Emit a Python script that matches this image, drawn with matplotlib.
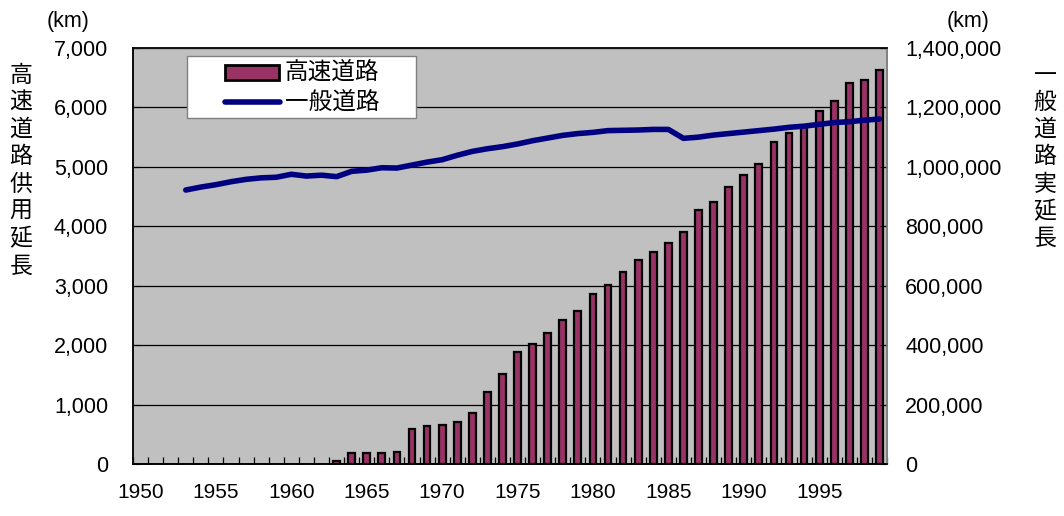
import matplotlib
matplotlib.use("Agg")
import matplotlib.pyplot as plt
from matplotlib.patches import Rectangle
from matplotlib.lines import Line2D
from matplotlib.ticker import FuncFormatter, MultipleLocator

# expressway length in service (km), 1963-1999
bar_years = list(range(1963, 2000))
expressway_km = [56, 181, 190, 190, 202, 594, 634, 651, 712, 864,
                 1212, 1518, 1890, 2025, 2200, 2430, 2575, 2861, 3013, 3232,
                 3434, 3563, 3725, 3910, 4281, 4404, 4667, 4870, 5055, 5414,
                 5571, 5666, 5941, 6115, 6407, 6463, 6626]

# general road actual length (km), 1953-1999
line_years = list(range(1953, 2000))
general_km = [922000, 932000, 940000, 950000, 958000, 963000, 965000, 975000,
              969000, 972000, 967000, 985000, 989000, 997000, 996000, 1006000,
              1016000, 1024000, 1039000, 1052000, 1061000, 1068000, 1077000,
              1088000, 1097000, 1106000, 1112000, 1116000, 1122000, 1123000,
              1124000, 1126000, 1126000, 1096000, 1100000, 1107000, 1112000,
              1117000, 1122000, 1127000, 1133000, 1137000, 1143000, 1149000,
              1152000, 1157000, 1161000]

year_labels = list(range(1950, 2000, 5))
left_title = "高速道路供用延長"
right_title = "一般道路実延長"
series_names = ["高速道路", "一般道路"]

BAR_COLOR = "#993366"
LINE_COLOR = "#000080"
jp_font = ["Noto Sans CJK JP", "DejaVu Sans"]
plt.rcParams["font.family"] = ["Liberation Sans", "Noto Sans CJK JP"]

W, H = 1064, 516


def fx(px):
    return px / W


def fy(py):
    return 1 - py / H


fig = plt.figure(figsize=(W / 100, H / 100), dpi=100)
ax = fig.add_axes([fx(133), fy(464), fx(887) - fx(133), fy(48) - fy(464)])
ax.set_facecolor("#C0C0C0")

ax.bar(bar_years, expressway_km, width=0.45, color=BAR_COLOR,
       edgecolor="black", linewidth=1.6, zorder=3)

ax.set_xlim(1949.5, 1999.5)
ax.set_ylim(0, 7000)
ax.yaxis.set_major_locator(MultipleLocator(1000))
ax.yaxis.set_major_formatter(FuncFormatter(lambda v, p: f"{int(v):,}"))
ax.grid(axis="y", color="black", linewidth=0.9, zorder=1)
ax.set_axisbelow(True)

ax.set_xticks(year_labels)
ax.set_xticklabels([str(y) for y in year_labels], fontsize=15)
ax.set_xticks([y + 0.5 for y in range(1949, 2000)], minor=True)
ax.tick_params(axis="x", which="major", length=0, pad=14)
ax.tick_params(axis="x", which="minor", direction="in", length=5, width=0.9)
ax.tick_params(axis="y", direction="in", length=5, labelsize=15.5, pad=18)

for side in ["top", "right"]:
    ax.spines[side].set_color("#808080")
ax.spines["left"].set_color("#404040")
ax.spines["bottom"].set_color("black")
for sp in ax.spines.values():
    sp.set_linewidth(1.2)

ax2 = ax.twinx()
ax2.plot(line_years, general_km, color=LINE_COLOR, linewidth=4,
         solid_capstyle="round", zorder=4)
ax2.set_ylim(0, 1400000)
ax2.yaxis.set_major_locator(MultipleLocator(200000))
ax2.yaxis.set_major_formatter(FuncFormatter(lambda v, p: f"{int(v):,}"))
ax2.tick_params(axis="y", direction="in", length=5, labelsize=15.5, pad=13)
ax2.spines["right"].set_color("#808080")
for sp in ax2.spines.values():
    sp.set_linewidth(1.2)

# units above each axis
fig.text(fx(68), fy(22), "(km)", ha="center", va="center", fontsize=15.5)
fig.text(fx(968), fy(22), "(km)", ha="center", va="center", fontsize=15.5)

# axis titles written top to bottom, one character per row
step = 27.3
for i, ch in enumerate(left_title):
    fig.text(fx(21), fy(75 + i * step), ch, ha="center", va="center",
             fontsize=16.5, family=jp_font)
for i, ch in enumerate(right_title):
    fig.text(fx(1045), fy(75 + i * step), ch, ha="center", va="center",
             fontsize=16.5, family=jp_font)

# legend box
fig.add_artist(Rectangle((fx(187), fy(118)), fx(416) - fx(187), fy(56) - fy(118),
                         transform=fig.transFigure, facecolor="white",
                         edgecolor="#808080", linewidth=1.0, zorder=5))
fig.add_artist(Rectangle((fx(225), fy(80)), fx(279) - fx(225), fy(65) - fy(80),
                         transform=fig.transFigure, facecolor=BAR_COLOR,
                         edgecolor="black", linewidth=2, zorder=6))
fig.add_artist(Line2D([fx(225), fx(280)], [fy(102), fy(102)],
                      transform=fig.transFigure, color=LINE_COLOR, linewidth=4,
                      solid_capstyle="round", zorder=6))
for name, ty in zip(series_names, [72, 102]):
    fig.text(fx(285), fy(ty), name, ha="left", va="center", fontsize=17,
             family=jp_font, zorder=7)

fig.savefig("out.png", dpi=100)
